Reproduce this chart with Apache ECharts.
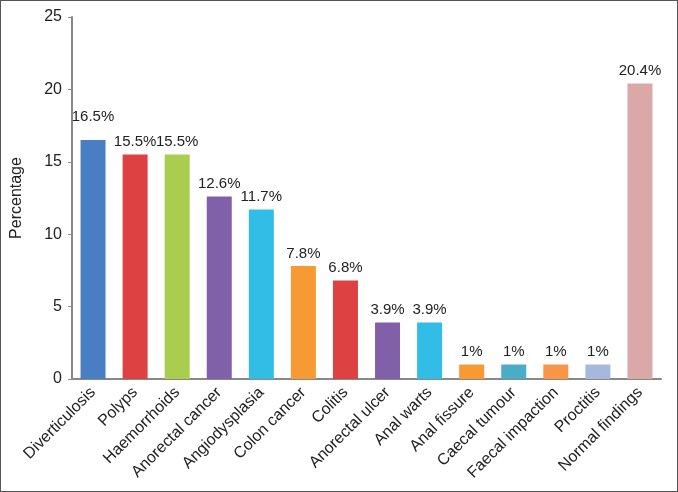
<!DOCTYPE html>
<html>
<head>
<meta charset="utf-8">
<script src="https://cdn.jsdelivr.net/npm/echarts@6/dist/echarts.min.js"></script>
<style>
  html, body { margin: 0; padding: 0; background: #fff; }
  #chart { width: 676px; height: 490px; border: 1px solid #555; }
</style>
</head>
<body>
<div id="chart"></div>
<script>
const categories = ['Diverticulosis', 'Polyps', 'Haemorrhoids', 'Anorectal cancer', 'Angiodysplasia',
  'Colon cancer', 'Colitis', 'Anorectal ulcer', 'Anal warts', 'Anal fissure', 'Caecal tumour',
  'Faecal impaction', 'Proctitis', 'Normal findings']
const values = [16.5, 15.5, 15.5, 12.6, 11.7, 7.8, 6.8, 3.9, 3.9, 1, 1, 1, 1, 20.4]
const barColors = ['#4a7ec2', '#de4141', '#a9cd4e', '#8060a8', '#31bde6', '#f79a33', '#de4141',
  '#8060a8', '#31bde6', '#f79a33', '#4aacc6', '#f79646', '#a6b8dc', '#dba8a8']
const yTicks = [0, 5, 10, 15, 20, 25]

const font = 'Liberation Sans, Arial, sans-serif'
const chart = echarts.init(document.getElementById('chart'))

chart.setOption({
  animation: false,
  grid: { left: 70, right: 16, top: 16, bottom: 112 },
  xAxis: {
    type: 'category',
    data: categories,
    axisLine: { lineStyle: { color: '#888', width: 2 } },
    axisTick: { show: false },
    axisLabel: {
      rotate: 45,
      interval: 0,
      color: '#222',
      fontSize: 16,
      fontFamily: font,
      margin: 11
    }
  },
  yAxis: {
    type: 'value',
    min: yTicks[0],
    max: yTicks[yTicks.length - 1],
    interval: 5,
    name: 'Percentage',
    nameLocation: 'middle',
    nameGap: 47,
    nameTextStyle: { color: '#222', fontSize: 16, fontFamily: font },
    axisLine: { show: true, lineStyle: { color: '#888', width: 2 } },
    axisTick: { show: true, length: 4, lineStyle: { color: '#888' } },
    splitLine: { show: false },
    axisLabel: { color: '#222', fontSize: 16, fontFamily: font, margin: 10 }
  },
  series: [{
    type: 'bar',
    data: values.map((v, i) => ({
      value: v,
      itemStyle: { color: barColors[i] },
      // the first label sits higher in the original
      label: i === 0 ? { distance: 16 } : undefined
    })),
    barWidth: 25,
    label: {
      show: true,
      position: 'top',
      distance: 5,
      color: '#222',
      fontSize: 15,
      fontFamily: font,
      formatter: p => p.value + '%'
    }
  }]
})
</script>
</body>
</html>
